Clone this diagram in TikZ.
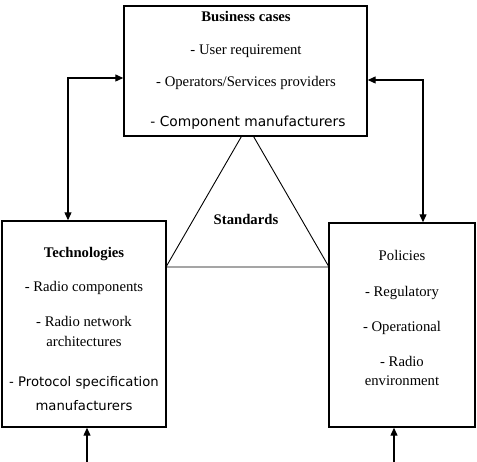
\documentclass[tikz,border=0pt]{standalone}
\usepackage{fontspec}
\setmainfont{Liberation Serif}
\newfontfamily\sansf{DejaVu Sans}
\usetikzlibrary{arrows.meta}
\begin{document}
\begin{tikzpicture}[x=1pt,y=-1pt,
  box/.style={draw, line width=1.4pt, fill=white, inner sep=0pt},
  txt/.style={font=\fontsize{14.7}{17}\selectfont, inner sep=0pt, anchor=base},
  bold/.style={txt, font=\fontsize{14.7}{17}\selectfont\bfseries},
  stxt/.style={inner sep=0pt, anchor=base, font=\fontsize{13.2}{16}\selectfont\sansf},
  link/.style={line width=1.2pt, {Triangle[length=8pt,width=7pt]}-{Triangle[length=8pt,width=7pt]}},
  uplink/.style={line width=1.2pt, -{Triangle[length=8pt,width=7pt]}},
  thin/.style={line width=0.9pt}]
\useasboundingbox (0,0) rectangle (477,462);
% triangle (Standards)
\coordinate (apex) at (247.5,126);
\coordinate (bl) at (166,267);
\coordinate (br) at (329,267);
\draw[thin] (bl) -- (apex) -- (br) -- cycle;
% boxes
\node[box, minimum width=243pt, minimum height=130pt] (top) at (245.5,71) {};
\node[box, minimum width=164pt, minimum height=206pt] (left) at (84,324) {};
\node[box, minimum width=146pt, minimum height=204pt] (right) at (402,325) {};
% top texts
\node[bold] (t1) at (246,22) {Business cases};
\node[txt] (t2) at (246,55) {- User requirement};
\node[txt] (t3) at (246,87) {- Operators/Services providers};
\node[stxt, font=\fontsize{13.8}{16}\selectfont\sansf] (t4) at (248,127) {- Component manufacturers};
% standards
\node[bold] (std) at (246,225) {Standards};
% left texts
\node[bold] (l1) at (84,258) {Technologies};
\node[txt] (l2) at (84,292) {- Radio components};
\node[txt] (l3) at (84,327) {- Radio network};
\node[txt] (l4) at (84,347) {architectures};
\node[stxt] (l5) at (84,387) {- Protocol specification};
\node[stxt] (l6) at (84,411) {manufacturers};
% right texts
\node[txt] (r1) at (402,261) {Policies};
\node[txt] (r2) at (402,297) {- Regulatory};
\node[txt] (r3) at (402,332) {- Operational};
\node[txt] (r4) at (402,367) {- Radio};
\node[txt] (r5) at (402,386) {environment};
% connectors
\coordinate (cl) at (68,78);
\coordinate (cr) at (423,80);
\draw[link] (top.west |- cl) -- (cl) -- (cl |- left.north);
\draw[link] (top.east |- cr) -- (cr) -- (cr |- right.north);
\coordinate (bottoml) at (87,462);
\coordinate (bottomr) at (394,462);
\draw[uplink] (bottoml) -- (bottoml |- left.south);
\draw[uplink] (bottomr) -- (bottomr |- right.south);
\end{tikzpicture}
\end{document}
